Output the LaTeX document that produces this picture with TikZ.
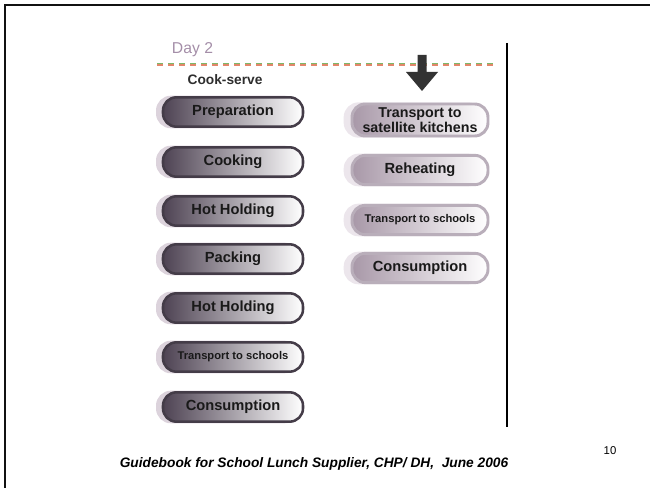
\documentclass[tikz,border=0pt]{standalone}
\usepackage{fontspec}
\setmainfont{Liberation Sans}
\usepackage{xcolor}
\usetikzlibrary{positioning}
\definecolor{framedraw}{HTML}{111111}
\definecolor{daytext}{HTML}{A48EA8}
\definecolor{cooktext}{HTML}{2E2E2E}
\definecolor{dashgreen}{HTML}{7CB86A}
\definecolor{dashred}{HTML}{E2876A}
\definecolor{hotdark}{HTML}{4E4353}
\definecolor{hotmid}{HTML}{A397A6}
\definecolor{hotrim}{HTML}{443C48}
\definecolor{hothalo}{HTML}{DCD3DC}
\definecolor{satdark}{HTML}{A898A8}
\definecolor{satmid}{HTML}{CABFCB}
\definecolor{satrim}{HTML}{B9AEBA}
\definecolor{sathalo}{HTML}{ECE6EC}
\definecolor{arrowfill}{HTML}{333333}
\tikzset{
  btn/.style={rectangle, rounded corners=10pt, align=center, inner sep=1pt, text=black!90, font=\bfseries\fontsize{11pt}{12pt}\selectfont},
  hotbtn/.style={btn, minimum width=105pt, minimum height=22pt, draw=hotrim, line width=1.9pt,
    left color=hotdark, middle color=hotmid, right color=white,
    preaction={fill=hothalo, draw=hothalo, line width=2.5pt, transform canvas={xshift=-4pt}}},
  satbtn/.style={btn, minimum width=102pt, minimum height=22pt, draw=satrim, line width=2.2pt,
    left color=satdark, middle color=satmid, right color=white,
    preaction={fill=sathalo, draw=sathalo, line width=2.5pt, transform canvas={xshift=-5pt}}},
  small/.style={font=\bfseries\fontsize{8.4pt}{9pt}\selectfont},
  dashline/.style={line width=0.8pt, dash pattern=on 4.5pt off 3.75pt},
}

\begin{document}
\begin{tikzpicture}[x=0.75pt, y=-0.75pt]
  \useasboundingbox (0,0) rectangle (650,488);
  % slide frame and divider
  \draw[framedraw, line width=1.6pt] (650,5) -- (5,5) -- (5,488);
  \draw[black, line width=0.8pt] (507,43) -- (507,427);
  % heading
  \node[text=daytext, font=\fontsize{11.8pt}{13pt}\selectfont] (day) at (192.5,50) {Day 2};
  \draw[dashred, dashline] (157,65) -- (497,65);
  \draw[dashgreen, dashline] (157,63.6) -- (497,63.6);
  \node[text=cooktext, font=\bfseries\fontsize{10.3pt}{11pt}\selectfont] (cookserve) at (225,80) {Cook-serve};
  % left column
  \node[hotbtn] (prep) at (233,112) {Preparation};
  \node[hotbtn] (cook) at (233,162) {Cooking};
  \node[hotbtn] (hold1) at (233,211) {Hot Holding};
  \node[hotbtn] (pack) at (233,259) {Packing};
  \node[hotbtn] (hold2) at (233,308) {Hot Holding};
  \node[hotbtn, small] (trans1) at (233,357) {Transport to schools};
  \node[hotbtn] (cons1) at (233,407) {Consumption};
  % right column
  \node[satbtn, font=\bfseries\fontsize{10.7pt}{11pt}\selectfont, minimum height=24pt] (sat) at (420,120) {Transport to\\satellite kitchens};
  \node[satbtn] (reheat) at (420,170) {Reheating};
  \node[satbtn, small] (trans2) at (420,220) {Transport to schools};
  \node[satbtn] (cons2) at (420,268) {Consumption};
  % block arrow into the satellite side
  \fill[arrowfill] (417.5,55) -- (426.5,55) -- (426.5,72) -- (438,72) -- (422,91)
    -- (406,72) -- (417.5,72) -- cycle;
  % footer
  \node[font=\bfseries\itshape\fontsize{10.3pt}{11pt}\selectfont] (foot) at (314,464) {Guidebook for School Lunch Supplier, CHP/ DH,\ \ June 2006};
  \node[font=\fontsize{8.5pt}{9pt}\selectfont] (pageno) at (610,451) {10};
\end{tikzpicture}
\end{document}
